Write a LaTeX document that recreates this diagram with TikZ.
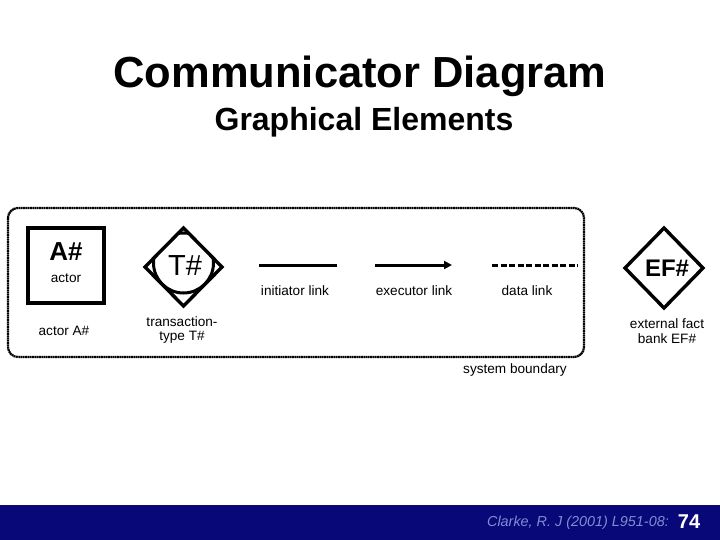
\documentclass[tikz,border=0pt]{standalone}
\usepackage{fontspec}
\setmainfont{Liberation Sans}
\usetikzlibrary{arrows.meta}
\definecolor{navy}{RGB}{8,8,120}
\definecolor{cite}{RGB}{130,140,210}
\begin{document}
\begin{tikzpicture}[x=1pt,y=-1pt,
  lbl/.style={font=\fontsize{13.6}{14.5}\selectfont, align=center, inner sep=0pt},
  sym/.style={line width=3.4pt},
  linkline/.style={line width=3pt}]
\useasboundingbox (0,0) rectangle (720,540);
\fill[white] (0,0) rectangle (720,540);
% title
\node[font=\bfseries\fontsize{43.5}{48}\selectfont] (title) at (360,76) {Communicator Diagram};
\node[font=\bfseries\fontsize{32}{36}\selectfont] (sub) at (364,122) {Graphical Elements};
% system boundary
\draw[line width=2.2pt, dash pattern=on 1.8pt off 0.5pt, rounded corners=10pt] (8,208) rectangle (584,357);
\node[lbl] (sb) at (515,370) {system boundary};
% actor
\draw[sym] (28,228) rectangle (104,303);
\node[font=\bfseries\fontsize{26}{28}\selectfont, inner sep=0pt] (A) at (66,252) {A\#};
\node[lbl] (actorin) at (66,278) {actor};
\node[lbl] (actorlbl) at (64,331) {actor A\#};
% transaction type
\begin{scope}
\clip (145,267) -- (183.5,228) -- (222,267) -- (183.5,306) -- cycle;
\draw[line width=3pt] (183.5,263) circle (30);
\end{scope}
\draw[sym, line join=miter] (145,267) -- (183.5,228) -- (222,267) -- (183.5,306) -- cycle;
\node[font=\fontsize{29}{31}\selectfont, inner sep=0pt] (T) at (185,266) {T\#};
\node[lbl] (tlbl) at (182,330) {transaction-\\type T\#};
% links
\coordinate (i1) at (259,265); \coordinate (i2) at (337,265);
\draw[linkline] (i1) -- (i2);
\node[lbl] (il) at (295,291) {initiator link};
\coordinate (e1) at (375,265); \coordinate (e2) at (452,265);
\draw[linkline, -{Triangle[length=8pt,width=8pt]}] (e1) -- (e2);
\node[lbl] (el) at (414,291) {executor link};
\coordinate (d1) at (492,265); \coordinate (d2) at (578,265);
\draw[line width=3pt, dash pattern=on 6pt off 2.5pt] (d1) -- (d2);
\node[lbl] (dl) at (527,291) {data link};
% external fact bank
\draw[sym, line join=miter] (625,268) -- (664,228) -- (703,268) -- (664,308) -- cycle;
\node[font=\bfseries\fontsize{24}{26}\selectfont, inner sep=0pt] (EF) at (667,268) {EF\#};
\node[lbl] (eflbl) at (667,331) {external fact\\bank EF\#};
% bottom bar
\fill[navy] (0,505) rectangle (720,540);
\node[font=\itshape\fontsize{14.4}{16}\selectfont, text=cite, anchor=east, inner sep=0pt] (cite) at (669,523) {Clarke, R. J (2001) L951-08:};
\node[font=\bfseries\fontsize{20}{22}\selectfont, text=white, inner sep=0pt] (pg) at (689,522) {74};
\end{tikzpicture}
\end{document}
